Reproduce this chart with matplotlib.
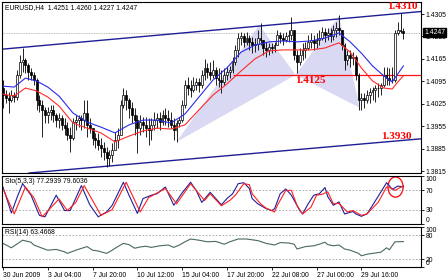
import numpy as np
import matplotlib.pyplot as plt
from matplotlib.patches import Ellipse, Polygon

plt.rcParams['font.family'] = ['Liberation Sans', 'DejaVu Sans']

# EURUSD H4 candles (open = previous close)
first_open = 1.4075
high = [1.4099, 1.4068, 1.4062, 1.4068, 1.4062, 1.4130, 1.4177, 1.4199, 1.4168, 1.4152,
        1.4137, 1.4124, 1.4105, 1.4052, 1.4037, 1.4015, 1.4015, 1.4021, 1.4021, 1.3996,
        1.3996, 1.3990, 1.3981, 1.3968, 1.3952, 1.3981, 1.3990, 1.3990, 1.3990, 1.4037,
        1.4037, 1.3981, 1.3949, 1.3934, 1.3934, 1.3918, 1.3906, 1.3890, 1.3881, 1.3903,
        1.3937, 1.3949, 1.4037, 1.4074, 1.4068, 1.4043, 1.4030, 1.4012, 1.3990, 1.3990,
        1.3984, 1.3984, 1.3981, 1.3981, 1.3999, 1.3996, 1.3999, 1.4006, 1.4012, 1.4006,
        1.3999, 1.3981, 1.3974, 1.3984, 1.4037, 1.4099, 1.4108, 1.4099, 1.4108, 1.4105,
        1.4105, 1.4130, 1.4165, 1.4152, 1.4155, 1.4161, 1.4140, 1.4137, 1.4130, 1.4137,
        1.4140, 1.4143, 1.4171, 1.4208, 1.4246, 1.4249, 1.4246, 1.4249, 1.4240, 1.4233,
        1.4230, 1.4255, 1.4277, 1.4224, 1.4218, 1.4215, 1.4215, 1.4218, 1.4255, 1.4249,
        1.4246, 1.4249, 1.4255, 1.4296, 1.4255, 1.4193, 1.4199, 1.4215, 1.4218, 1.4240,
        1.4246, 1.4240, 1.4246, 1.4255, 1.4264, 1.4261, 1.4261, 1.4261, 1.4271, 1.4280,
        1.4302, 1.4255, 1.4215, 1.4193, 1.4193, 1.4186, 1.4177, 1.4121, 1.4059, 1.4059,
        1.4068, 1.4074, 1.4077, 1.4084, 1.4090, 1.4090, 1.4140, 1.4140, 1.4137, 1.4140,
        1.4255, 1.4280, 1.4308, 1.4260]
low = [1.4012, 1.4027, 1.3996, 1.4030, 1.4030, 1.4037, 1.4105, 1.4124, 1.4121, 1.4099,
       1.4099, 1.4084, 1.4006, 1.3999, 1.3921, 1.3965, 1.3965, 1.3974, 1.3968, 1.3952,
       1.3949, 1.3943, 1.3928, 1.3912, 1.3874, 1.3912, 1.3943, 1.3952, 1.3943, 1.3949,
       1.3921, 1.3934, 1.3896, 1.3887, 1.3881, 1.3859, 1.3850, 1.3828, 1.3831, 1.3843,
       1.3881, 1.3887, 1.3928, 1.4012, 1.4006, 1.3981, 1.3965, 1.3928, 1.3871, 1.3928,
       1.3937, 1.3921, 1.3896, 1.3912, 1.3943, 1.3949, 1.3943, 1.3959, 1.3959, 1.3952,
       1.3949, 1.3912, 1.3906, 1.3952, 1.3968, 1.4012, 1.4052, 1.4046, 1.4062, 1.4068,
       1.4062, 1.4074, 1.4099, 1.4105, 1.4099, 1.4105, 1.4084, 1.4077, 1.4059, 1.4084,
       1.4099, 1.4105, 1.4121, 1.4146, 1.4171, 1.4208, 1.4202, 1.4208, 1.4193, 1.4183,
       1.4186, 1.4193, 1.4208, 1.4177, 1.4171, 1.4177, 1.4183, 1.4186, 1.4208, 1.4215,
       1.4208, 1.4218, 1.4218, 1.4224, 1.4161, 1.4121, 1.4146, 1.4161, 1.4168, 1.4193,
       1.4199, 1.4193, 1.4199, 1.4208, 1.4224, 1.4218, 1.4224, 1.4218, 1.4224, 1.4233,
       1.4240, 1.4193, 1.4130, 1.4146, 1.4140, 1.4146, 1.4099, 1.4006, 1.4006, 1.4012,
       1.4027, 1.4027, 1.4037, 1.4030, 1.4046, 1.4052, 1.4077, 1.4084, 1.4084, 1.4090,
       1.4093, 1.4240, 1.4246, 1.4227]
close = [1.4052, 1.4043, 1.4037, 1.4052, 1.4046, 1.4115, 1.4155, 1.4161, 1.4146, 1.4124,
         1.4115, 1.4099, 1.4037, 1.4021, 1.4006, 1.3990, 1.3999, 1.4006, 1.3990, 1.3974,
         1.3981, 1.3959, 1.3949, 1.3928, 1.3918, 1.3968, 1.3974, 1.3981, 1.3974, 1.3996,
         1.3959, 1.3949, 1.3918, 1.3912, 1.3896, 1.3887, 1.3874, 1.3856, 1.3865, 1.3881,
         1.3912, 1.3928, 1.4021, 1.4052, 1.4037, 1.4012, 1.3990, 1.3974, 1.3949, 1.3968,
         1.3959, 1.3949, 1.3943, 1.3959, 1.3974, 1.3981, 1.3968, 1.3990, 1.3981, 1.3974,
         1.3959, 1.3943, 1.3965, 1.3974, 1.4021, 1.4084, 1.4074, 1.4068, 1.4084, 1.4093,
         1.4084, 1.4115, 1.4137, 1.4124, 1.4115, 1.4130, 1.4105, 1.4099, 1.4093, 1.4115,
         1.4124, 1.4130, 1.4155, 1.4193, 1.4230, 1.4236, 1.4218, 1.4230, 1.4218, 1.4208,
         1.4211, 1.4230, 1.4224, 1.4199, 1.4193, 1.4202, 1.4199, 1.4208, 1.4240, 1.4230,
         1.4224, 1.4236, 1.4240, 1.4255, 1.4177, 1.4155, 1.4177, 1.4193, 1.4199, 1.4218,
         1.4224, 1.4215, 1.4224, 1.4230, 1.4249, 1.4240, 1.4246, 1.4236, 1.4255, 1.4261,
         1.4255, 1.4208, 1.4161, 1.4177, 1.4168, 1.4171, 1.4115, 1.4037, 1.4043, 1.4037,
         1.4052, 1.4062, 1.4068, 1.4074, 1.4074, 1.4084, 1.4115, 1.4105, 1.4099, 1.4099,
         1.4246, 1.4255, 1.4251, 1.4247]

# moving averages (blue, red) sampled along the chart
ma_idx = [0, 4, 8, 12, 16, 20, 25, 30, 35, 40, 45, 50, 55, 60, 65, 70, 75, 80, 85, 90,
          95, 100, 105, 110, 115, 120, 124, 128, 132, 136, 139, 141, 143]
ma_blue = [1.4080, 1.4077, 1.4105, 1.4096, 1.4077, 1.4049, 1.3996, 1.3968, 1.3952, 1.3934,
           1.3959, 1.3974, 1.3974, 1.3965, 1.3993, 1.4046, 1.4099, 1.4137, 1.4186, 1.4208,
           1.4218, 1.4221, 1.4218, 1.4221, 1.4230, 1.4246, 1.4218, 1.4183, 1.4143, 1.4112,
           1.4093, 1.4118, 1.4143]
ma_red = [1.4055, 1.4049, 1.4074, 1.4065, 1.4046, 1.4018, 1.3965, 1.3949, 1.3934, 1.3906,
          1.3924, 1.3940, 1.3949, 1.3946, 1.3959, 1.4006, 1.4052, 1.4087, 1.4127, 1.4165,
          1.4190, 1.4193, 1.4193, 1.4193, 1.4199, 1.4215, 1.4186, 1.4137, 1.4096, 1.4074,
          1.4071, 1.4093, 1.4112]

# harmonic pattern points X, A, B, C, D  (bar, price)
pat_bar = [62, 91.5, 104.5, 120, 127.5]
pat_price = [1.3906, 1.4271, 1.4115, 1.4299, 1.4012]

# Stochastic(5,3,3)
sto_k_idx = [0, 3, 5, 7, 10, 13, 15, 19, 22, 24, 28, 31, 34, 37, 39, 43, 45, 48, 50, 53,
             55, 58, 61, 64, 67, 69, 71, 74, 78, 80, 82, 84, 86, 88, 89, 91, 94, 96, 97, 99,
             101, 103, 106, 107, 109, 111, 113, 115, 116, 118, 120, 122, 125, 126, 128, 130,
             132, 135, 137, 138, 139, 141, 143]
sto_k = [77, 23, 55, 84, 60, 18, 15, 60, 28, 28, 80, 40, 15, 25, 39, 87, 60, 22, 53, 60,
         63, 77, 39, 65, 87, 70, 45, 66, 40, 53, 63, 84, 86, 74, 53, 42, 32, 28, 32, 63,
         73, 60, 28, 21, 42, 60, 63, 76, 57, 39, 46, 21, 26, 21, 16, 21,
         39, 67, 86, 80, 72, 79, 77.29]
sto_d_idx = [0, 4, 8, 11, 14, 20, 23, 26, 29, 35, 39, 44, 49, 52, 58, 62, 67, 72, 74, 78,
             81, 83, 86, 88, 89, 92, 94, 97, 98, 101, 103, 105, 107, 110, 112, 114, 116, 118,
             120, 123, 125, 128, 130, 134, 137, 139, 140, 143]
sto_d = [73, 21, 77, 55, 15, 52, 28, 45, 80, 18, 30, 87, 25, 55, 74, 42, 84, 49, 63, 38,
         49, 60, 84, 82, 63, 42, 33, 25, 39, 70, 70, 39, 21, 35, 60, 62, 67, 42,
         43, 25, 28, 18, 21, 45, 77, 74, 70, 79.6]

# RSI(14)
rsi_idx = [0, 3, 7, 10, 11, 14, 16, 19, 22, 23, 26, 30, 32, 34, 37, 39, 41, 43, 45, 47,
           49, 51, 53, 56, 59, 61, 63, 65, 67, 70, 73, 76, 79, 81, 84, 87, 91, 94, 97, 99,
           102, 104, 105, 108, 111, 113, 115, 116, 118, 120, 122, 124, 127, 128, 130, 134,
           135, 137, 138, 140, 143]
rsi = [59, 48, 67, 62, 55, 47, 42, 44, 38, 34, 42, 51, 42, 40, 34, 42, 51, 59, 56, 47,
       50, 52, 49, 53, 55, 49, 55, 63, 70, 67, 63, 64, 57, 63, 70, 70, 66, 59, 55, 61,
       60, 57, 45, 51, 53, 57, 62, 56, 53, 55, 45, 42, 34, 28, 32, 36,
       37, 48, 43, 63, 63.47]

date_ticks = [0, 16, 32, 48, 64, 80, 96, 112, 128]
date_labels = ['30 Jun 2009', '3 Jul 04:00', '7 Jul 20:00', '10 Jul 12:00', '15 Jul 04:00',
               '17 Jul 20:00', '22 Jul 08:00', '27 Jul 00:00', '29 Jul 16:00']
price_ticks = [1.4305, 1.4235, 1.4165, 1.4095, 1.4025, 1.3955, 1.3885, 1.3815]

FS = 4.9
XLIM = (-0.36, 149.3)


def style(ax):
    ax.set_xlim(*XLIM)
    for s in ax.spines.values():
        s.set_color('black')
        s.set_linewidth(0.8)
    ax.yaxis.tick_right()
    ax.tick_params(axis='y', length=2, width=0.6, labelsize=FS, pad=1.5)
    ax.tick_params(axis='x', length=2, width=0.6, labelsize=FS, pad=1.5)


def main():
    W, H = 448.0, 280.0
    fig = plt.figure(figsize=(4.48, 2.80), dpi=100)

    def box(top, bottom):
        return [2 / W, 1 - bottom / H, 419 / W, (bottom - top) / H]

    ax = fig.add_axes(box(2, 173))
    ax_st = fig.add_axes(box(176, 224))
    ax_rsi = fig.add_axes(box(227, 267))

    # ---- price panel
    c = np.array(close)
    o = np.r_[first_open, c[:-1]]
    idx = np.arange(len(c))
    pts = list(zip(pat_bar, pat_price))
    ax.add_patch(Polygon(pts[0:3], closed=True, fc='#d9d9f4', ec='none', zorder=1))
    ax.add_patch(Polygon(pts[2:5], closed=True, fc='#d9d9f4', ec='none', zorder=1))

    ax.axhline(close[-1], color='#a8a8a8', lw=0.6, ls=(0, (1, 1)), zorder=1.5)
    ax.axline((7, 1.4201), (142, 1.4307), color='#1e1e96', lw=1.0, zorder=2)
    ax.axline((37, 1.3830), (142, 1.3910), color='#1e1e96', lw=1.0, zorder=2)
    ax.hlines(1.4115, 82, XLIM[1], color='#ff1010', lw=0.9, zorder=2)

    ax.vlines(idx, low, high, color='black', lw=0.6, zorder=3)
    bot = np.minimum(o, c)
    hgt = np.maximum(np.abs(c - o), 0.00006)
    up = c >= o
    ax.bar(idx[up], hgt[up], bottom=bot[up], width=0.65, color='white',
           edgecolor='black', linewidth=0.5, zorder=4)
    ax.bar(idx[~up], hgt[~up], bottom=bot[~up], width=0.65, color='black',
           edgecolor='black', linewidth=0.5, zorder=4)

    ax.plot(ma_idx, ma_blue, color='#2a2ae8', lw=0.8, zorder=5)
    ax.plot(ma_idx, ma_red, color='#ff2a2a', lw=0.8, zorder=5)

    lbl = dict(color='#ff0000', fontsize=8, fontweight='bold',
               family='Liberation Serif', va='center', ha='left', zorder=6)
    ax.text(137.2, 1.4328, '1.4310', **lbl)
    ax.text(104.5, 1.4096, '1.4125', **lbl)
    ax.text(135.0, 1.3924, '1.3930', **lbl)

    ax.text(0.008, 0.988, 'EURUSD,H4  1.4251 1.4260 1.4227 1.4247', transform=ax.transAxes,
            va='top', ha='left', fontsize=FS)

    style(ax)
    ax.set_ylim(1.38089, 1.43425)
    ax.set_yticks(price_ticks)
    ax.set_yticklabels(['%.4f' % p for p in price_ticks])
    ax.set_xticks([])
    ax.annotate('%.4f' % close[-1], xy=(1, close[-1]), xycoords=('axes fraction', 'data'),
                xytext=(2.5, 0), textcoords='offset points', va='center', ha='left',
                fontsize=FS, color='white', annotation_clip=False,
                bbox=dict(boxstyle='square,pad=0.15', fc='black', ec='black'))

    # ---- stochastic panel
    ax_st.axhline(70, color='#a0a0a0', lw=0.6, ls=(0, (2, 2)))
    ax_st.axhline(30, color='#a0a0a0', lw=0.6, ls=(0, (2, 2)))
    ax_st.plot(sto_k_idx, sto_k, color='#20209a', lw=0.8)
    ax_st.plot(sto_d_idx, sto_d, color='#ff2020', lw=0.8)
    ax_st.add_patch(Ellipse((140.2, 77), 5.4, 42, fill=False, ec='#ff0000', lw=0.9))
    ax_st.text(0.008, 0.96, 'Sto(5,3,3) 77.2939 79.6036', transform=ax_st.transAxes,
               va='top', ha='left', fontsize=FS)
    style(ax_st)
    ax_st.set_ylim(0, 100)
    ax_st.set_yticks([100, 70, 30, 0])
    ax_st.set_yticklabels(['100', '70', '30', '0'])
    tl = ax_st.get_yticklabels()
    tl[0].set_va('top')
    tl[-1].set_va('bottom')
    ax_st.set_xticks([])

    # ---- RSI panel
    ax_rsi.axhline(80, color='#a0a0a0', lw=0.6, ls=(0, (2, 2)))
    ax_rsi.axhline(20, color='#a0a0a0', lw=0.6, ls=(0, (2, 2)))
    ax_rsi.plot(rsi_idx, rsi, color='#4a6a5a', lw=0.8)
    ax_rsi.text(0.008, 0.95, 'RSI(14) 63.4668', transform=ax_rsi.transAxes,
                va='top', ha='left', fontsize=FS)
    style(ax_rsi)
    ax_rsi.set_ylim(0, 100)
    ax_rsi.set_yticks([100, 80, 20, 0])
    ax_rsi.set_yticklabels(['100', '80', '20', '0'])
    tl = ax_rsi.get_yticklabels()
    tl[0].set_va('top')
    tl[-1].set_va('bottom')
    ax_rsi.set_xticks(date_ticks)
    ax_rsi.set_xticklabels(date_labels, ha='left')

    fig.savefig('out.png', dpi=100)


if __name__ == '__main__':
    main()
